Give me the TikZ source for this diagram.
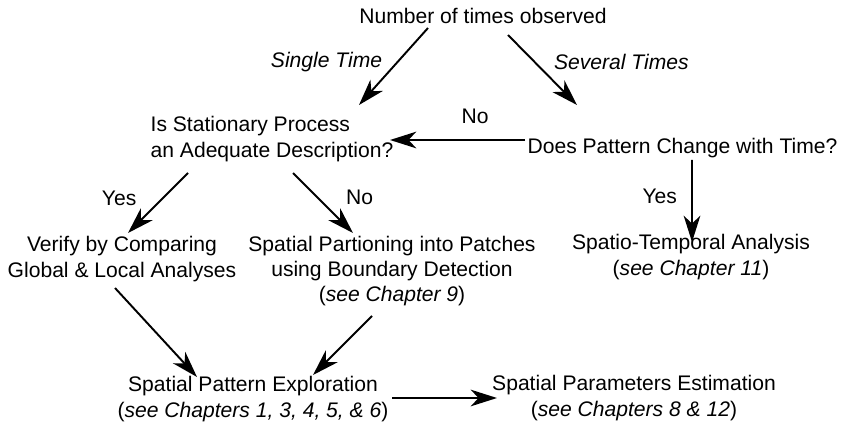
\documentclass[tikz,border=0pt]{standalone}
\usepackage{fontspec}
\setmainfont{Liberation Sans}
\usetikzlibrary{arrows.meta,calc}

\begin{document}
\begin{tikzpicture}[x=0.02cm, y=-0.02cm,
    box/.style={inner sep=0pt, align=center, font=\fontsize{12}{14.4}\selectfont},
    lbl/.style={inner sep=0pt, font=\fontsize{12}{14.4}\selectfont},
    flow/.style={-{Stealth[length=15pt,width=9.5pt,inset=4.5pt]}, line width=1.1pt}]
    \useasboundingbox (0,0) rectangle (855,425);
    \node[box] at (483,15.5) (num) {Number of times observed};
    \node[box, align=left] at (272,139) (stat) {Is Stationary Process\\an Adequate Description?};
    \node[box] at (682.5,148) (change) {Does Pattern Change with Time?};
    \node[box] at (122,259) (verify) {Verify by Comparing\\Global \& Local Analyses};
    \node[box] at (392,271) (part) {Spatial Partioning into Patches\\using Boundary Detection\\(\textit{see Chapter 9})};
    \node[box] at (691,257) (spt) {Spatio-Temporal Analysis\\(\textit{see Chapter 11})};
    \node[box] at (253,399) (expl) {Spatial Pattern Exploration\\(\textit{see Chapters 1, 3, 4, 5, \& 6})};
    \node[box] at (634,398) (est) {Spatial Parameters Estimation\\(\textit{see Chapters 8 \& 12})};
    \path [flow] ($(num)+(-55,12.5)$) edge node[lbl, left=8.3pt, pos=0.44] {\textit{Single Time}} ($(stat)+(87,-34)$);
    \path [flow] ($(num)+(25,19.5)$) edge node[lbl, right=10.4pt, pos=0.39] {\textit{Several Times}} ($(change)+(-105.5,-43)$);
    \path [flow] ($(change)+(-157.5,-8)$) edge node[lbl, above=8.5pt, pos=0.37] {No} ($(stat)+(118,1)$);
    \path [flow] ($(change)+(9.5,12)$) edge node[lbl, left=8pt, pos=0.44] {Yes} ($(spt)+(1,-15)$);
    \path [flow] ($(stat)+(-84,34)$) edge node[lbl, left=14.5pt, pos=0.42] {Yes} ($(verify)+(6,-26)$);
    \path [flow] ($(stat)+(21,34)$) edge node[lbl, right=16pt, pos=0.4] {No} ($(part)+(-39,-38)$);
    \path [flow] ($(verify)+(-7,29)$) edge ($(expl)+(-56,-22)$);
    \path [flow] ($(part)+(-20,45)$) edge ($(expl)+(60,-24)$);
    \path [flow] ($(expl)+(139,-1)$) edge ($(est)+(-137,0)$);
\end{tikzpicture}
\end{document}
